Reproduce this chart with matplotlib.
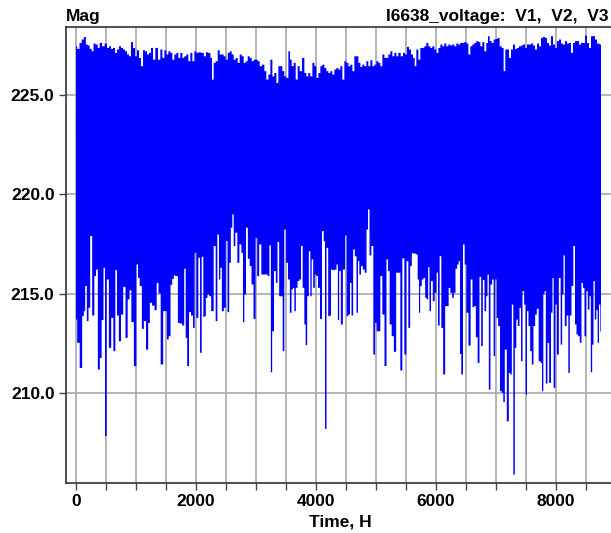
import matplotlib
matplotlib.use("Agg")
import matplotlib.pyplot as plt
from matplotlib.ticker import MultipleLocator, FormatStrFormatter

plt.rcParams["font.family"] = ["Liberation Sans", "DejaVu Sans"]
plt.rcParams["font.weight"] = "bold"

# upper edge of the voltage band (hour, V)
hi_hours = [
    0, 39, 78, 111, 150, 178, 211, 244, 278, 306,
    344, 378, 411, 456, 500, 533, 567, 600, 633, 667,
    700, 733, 767, 800, 833, 867, 900, 933, 967, 1000,
    1033, 1067, 1100, 1133, 1167, 1200, 1233, 1267, 1300, 1344,
    1389, 1422, 1456, 1489, 1522, 1556, 1589, 1622, 1656, 1689,
    1722, 1756, 1789, 1822, 1856, 1889, 1922, 1956, 1989, 2022,
    2056,
    2111, 2150, 2178, 2222, 2256, 2278, 2311, 2345, 2378, 2411,
    2445, 2478, 2511, 2545, 2578, 2611, 2645, 2678, 2711, 2745,
    2778, 2811, 2845, 2878, 2911, 2945, 2978, 3011, 3045, 3078,
    3123, 3156, 3189, 3223, 3256, 3289, 3323, 3356, 3389, 3423,
    3456, 3489, 3523, 3556, 3578, 3611, 3645, 3678, 3711, 3745,
    3789, 3823, 3856, 3889, 3923, 3956, 3989, 4023, 4056, 4089,
    4123, 4156, 4189, 4223, 4256, 4289, 4323, 4356, 4389, 4423,
    4456, 4489, 4523, 4556, 4589, 4623, 4656, 4689, 4723, 4756,
    4789, 4823, 4856, 4889, 4923, 4956, 4989, 5023, 5056, 5089,
    5123, 5156, 5189, 5223, 5256, 5289, 5323, 5356, 5389,
    5433, 5467, 5500, 5533, 5567, 5600, 5633, 5656, 5689, 5722,
    5756, 5789, 5822, 5856, 5889, 5922, 5956, 5989, 6022, 6056,
    6089, 6122, 6156, 6189, 6222, 6256, 6289, 6322, 6356, 6389,
    6422, 6456, 6489, 6522, 6556, 6589, 6622, 6656, 6689, 6722,
    6756, 6789, 6822, 6856, 6878, 6911, 6944, 6978, 7011, 7044,
    7078, 7111, 7144, 7167, 7200, 7233, 7267, 7300, 7333, 7367,
    7400, 7433, 7467, 7500, 7533, 7567, 7600, 7633, 7667, 7700,
    7733, 7767, 7800, 7833, 7867, 7900, 7933, 7967, 8000, 8033,
    8067, 8100, 8133, 8167, 8200, 8233, 8267, 8300, 8333, 8367,
    8400, 8433, 8467, 8500, 8533, 8567, 8600, 8633, 8667, 8700,
    8750,
]
hi_volts = [
    227.43, 227.30, 227.60, 227.77, 227.90, 227.52, 227.47, 227.30, 227.18, 227.57,
    227.52, 227.35, 227.60, 227.43, 227.57, 227.35, 227.43, 227.30, 227.35, 227.10,
    227.27, 227.43, 227.35, 227.27, 227.18, 227.02, 226.93, 227.64, 227.35, 226.93,
    227.23, 226.85, 226.43, 227.23, 227.18, 227.02, 227.10, 227.35, 226.76, 227.35,
    226.76, 227.27, 226.85, 227.23, 227.02, 227.18, 227.10, 226.76, 227.02, 227.10,
    226.85, 227.10, 226.85, 226.93, 227.02, 226.68, 227.10, 226.68, 227.18, 227.10,
    227.13,
    227.10, 226.93, 227.13, 227.10, 226.85, 225.76, 226.60, 226.68, 227.23, 227.02,
    227.02, 226.93, 226.76, 227.10, 227.18, 227.02, 226.76, 226.85, 226.60, 227.02,
    226.93, 226.60, 226.68, 226.93, 226.85, 226.68, 226.76, 226.76, 226.68, 226.43,
    226.51, 226.18, 225.76, 226.01, 226.76, 225.92, 226.09, 225.59, 226.43, 226.43,
    226.18, 225.92, 225.84, 227.18, 226.76, 226.43, 226.60, 225.76, 226.43, 226.18,
    226.85, 226.09, 225.92, 226.09, 225.92, 226.60, 226.43, 225.84, 226.09, 226.43,
    226.51, 226.34, 226.18, 226.09, 226.18, 226.01, 226.26, 226.34, 226.26, 226.43,
    225.76, 226.68, 226.60, 226.43, 226.51, 226.18, 226.93, 226.93, 226.60, 226.39,
    226.51, 226.43, 226.68, 226.43, 226.73, 226.43, 226.51, 226.68, 226.60, 226.43,
    227.02, 226.85, 226.85, 227.02, 227.18, 226.93, 227.10, 226.93, 227.10,
    226.93, 227.10, 227.02, 227.40, 227.27, 227.02, 226.85, 226.43, 227.27, 226.76,
    227.35, 227.35, 227.43, 227.60, 227.43, 227.35, 227.43, 227.27, 227.10, 227.35,
    227.52, 227.43, 227.57, 227.43, 227.52, 227.47, 227.52, 227.43, 227.57, 227.52,
    227.60, 227.60, 227.64, 227.57, 227.02, 227.43, 227.52, 227.60, 227.69, 227.64,
    227.43, 227.64, 227.18, 227.60, 227.94, 227.69, 227.60, 227.77, 227.80, 227.85,
    227.43, 227.35, 226.18, 227.27, 227.27, 226.85, 227.27, 227.52, 227.30, 227.35,
    227.43, 227.47, 227.52, 227.35, 227.52, 227.52, 227.57, 227.47, 227.27, 227.57,
    227.43, 227.85, 227.90, 227.85, 227.60, 227.47, 227.94, 227.52, 227.35, 227.69,
    227.77, 227.57, 227.52, 227.69, 227.57, 227.60, 227.10, 227.60, 227.69, 227.69,
    227.52, 227.60, 227.60, 227.97, 227.60, 227.35, 227.94, 227.94, 227.77, 227.57,
    227.52,
]

# lower edge of the band, with the downward dips (hour, V)
lo_hours = [
    0, 39, 83, 122, 139, 167, 194, 222, 250, 289,
    322, 344, 383, 411, 444, 472, 494, 528, 567, 606,
    639, 672, 694, 733, 767, 806, 844, 878, 906, 939,
    989, 1022, 1044, 1078, 1117, 1144, 1189, 1217, 1244, 1289,
    1328, 1361, 1389, 1433, 1472, 1500, 1528, 1561, 1589, 1617,
    1644, 1678, 1717, 1750, 1789, 1817, 1839, 1867, 1900, 1933,
    1967, 1989, 2022, 2056, 2078, 2111, 2133,
    2150, 2178, 2206, 2233, 2272, 2317, 2339, 2372, 2394, 2417,
    2444, 2483, 2511, 2539, 2567, 2594, 2617, 2639, 2672, 2706,
    2739, 2772, 2794, 2817, 2850, 2878, 2911, 2939, 2978, 3006,
    3033, 3072, 3106, 3150, 3183, 3206, 3239, 3256, 3283, 3317,
    3344, 3372, 3400, 3428, 3461, 3483, 3517, 3550, 3578, 3606,
    3628, 3650, 3678, 3706, 3739, 3761, 3794, 3817, 3839, 3867,
    3894, 3917, 3939, 3967, 3994, 4017, 4050, 4083, 4117, 4139,
    4161, 4189, 4217, 4239, 4261, 4294, 4328, 4356, 4372,
    4400, 4428, 4467, 4500, 4522, 4556, 4578, 4606, 4633, 4661,
    4689, 4711, 4733, 4767, 4794, 4828, 4856, 4878, 4906, 4939,
    4972, 4994, 5028, 5056, 5089, 5122, 5161, 5189, 5211, 5244,
    5278, 5317, 5356, 5389, 5422, 5456, 5489, 5522, 5556, 5583,
    5611, 5644, 5678, 5711, 5722, 5750, 5778, 5806, 5833, 5856,
    5883, 5900, 5933, 5961, 5994, 6022, 6044, 6078, 6100, 6139,
    6167, 6200, 6222, 6256, 6283, 6311, 6339, 6367, 6389, 6411,
    6433, 6467, 6489, 6522, 6561, 6594, 6622,
    6650, 6678, 6711, 6739, 6767, 6794, 6822, 6850, 6867, 6894,
    6922, 6950, 6972, 7000, 7022, 7050, 7083, 7111, 7133, 7161,
    7200, 7228, 7250, 7278, 7300, 7328, 7350, 7378, 7406, 7428,
    7456, 7483, 7506, 7528, 7556, 7583, 7611, 7639, 7667, 7694,
    7728, 7756, 7778, 7800, 7817, 7844, 7872, 7900, 7933, 7950,
    7972, 8006, 8028, 8067, 8089, 8117, 8133, 8161, 8194, 8217,
    8244, 8272, 8306, 8328, 8356, 8383, 8411, 8439, 8461, 8489,
    8517, 8544, 8572, 8589, 8617, 8633, 8661, 8683, 8706, 8728,
    8750,
]
lo_volts = [
    213.71, 212.54, 211.28, 213.88, 214.13, 215.39, 213.63, 214.30, 217.90, 213.91,
    215.89, 216.22, 211.20, 211.78, 213.68, 216.31, 207.85, 215.72, 212.29, 213.79,
    212.12, 216.19, 213.91, 212.62, 213.96, 215.35, 212.79, 214.72, 215.18, 213.58,
    211.37, 216.47, 215.80, 215.39, 213.24, 213.63, 212.20, 213.54, 214.55, 214.41,
    214.18, 215.55, 215.02, 211.45, 214.13, 214.13, 212.71, 212.87, 215.45, 215.75,
    215.92, 215.89, 213.54, 213.51, 213.41, 216.26, 212.79, 211.37, 214.08, 213.91,
    213.29, 217.06, 213.79, 216.81, 212.04, 216.86, 213.84,
    213.88, 214.80, 214.97, 214.88, 214.13, 217.40, 213.63, 217.98, 215.72, 216.31,
    214.13, 214.30, 217.65, 214.08, 216.56, 218.32, 218.99, 217.40, 218.07, 216.56,
    217.48, 217.06, 213.58, 214.97, 218.32, 216.76, 216.39, 215.47, 213.74, 217.81,
    215.89, 217.48, 215.97, 215.97, 215.97, 215.89, 217.43, 211.06, 213.12, 216.14,
    215.55, 217.60, 214.88, 214.88, 212.12, 218.23, 216.56, 215.72, 214.05, 215.22,
    215.30, 214.13, 215.30, 215.64, 215.72, 217.40, 215.30, 213.46, 212.42, 214.88,
    217.14, 214.88, 216.73, 215.30, 215.97, 215.89, 215.30, 213.74, 218.15, 217.65,
    208.22, 217.31, 213.88, 213.91, 216.22, 216.19, 216.22, 216.47, 213.68,
    216.14, 213.46, 216.22, 217.93, 213.88, 213.96, 215.55, 213.91, 217.23, 216.89,
    214.05, 216.64, 215.97, 216.39, 216.22, 216.06, 218.23, 219.24, 216.93, 217.40,
    211.95, 213.54, 213.12, 213.12, 215.89, 213.96, 211.37, 216.73, 216.14, 213.46,
    212.87, 212.09, 216.06, 216.06, 211.15, 216.78, 211.95, 216.64, 213.29, 216.39,
    217.03, 217.03, 216.98, 215.72, 214.05, 215.39, 215.72, 215.80, 214.80, 214.72,
    216.34, 214.13, 215.64, 214.63, 215.05, 216.06, 213.41, 216.89, 213.29, 210.95,
    214.38, 214.38, 215.30, 215.05, 214.80, 215.05, 216.26, 216.47, 216.64, 211.98,
    210.95, 217.48, 216.47, 214.05, 212.40, 215.72, 214.33,
    214.38, 212.82, 211.53, 215.85, 212.37, 215.69, 214.13, 214.88, 215.97, 210.19,
    215.47, 215.72, 211.87, 215.72, 213.79, 213.38, 210.11, 210.03, 209.56, 212.20,
    208.60, 211.03, 210.95, 214.46, 205.92, 212.29, 213.71, 213.38, 214.30, 211.62,
    215.13, 214.46, 209.94, 214.13, 213.38, 212.12, 211.45, 213.38, 213.96, 214.25,
    211.62, 211.53, 210.11, 214.97, 215.13, 210.49, 212.54, 210.53, 214.05, 215.80,
    210.28, 214.46, 211.95, 215.80, 212.45, 214.97, 216.93, 213.38, 213.91, 211.03,
    213.91, 215.39, 217.40, 213.46, 212.96, 212.87, 212.54, 215.55, 215.30, 212.87,
    215.13, 214.21, 214.88, 211.06, 212.45, 215.64, 213.71, 214.18, 212.54, 214.46,
    213.12,
]

x_labels = [0, 2000, 4000, 6000, 8000]
y_labels = [210.0, 215.0, 220.0, 225.0]

W, H = 611, 533
fig = plt.figure(figsize=(W / 100, H / 100), dpi=100)
ax = fig.add_axes([65.7 / W, 1 - 483 / H, (614 - 65.7) / W, (483 - 27) / H])

blue = "#0000ff"
# two overlapping fills: bottom edge with dips, top edge
ax.fill_between(lo_hours, lo_volts, 224.0, step="mid", facecolor=blue,
                edgecolor="none", lw=0, zorder=3)
ax.fill_between(hi_hours, 223.0, hi_volts, step="mid", facecolor=blue,
                edgecolor="none", lw=0, zorder=3)

ax.set_xlim(-172, 8967)
ax.set_ylim(205.5, 228.4)
ax.set_xticks(x_labels)
ax.xaxis.set_minor_locator(MultipleLocator(500))
ax.set_yticks(y_labels)
ax.yaxis.set_major_formatter(FormatStrFormatter("%.1f"))

ax.grid(True, which="both", color="#a8a8a8", lw=1.2, zorder=0)
ax.set_axisbelow(True)
ax.tick_params(which="both", direction="out", length=5, width=1,
               color="#444444", labelsize=12.5, pad=3)
ax.spines["right"].set_visible(False)
for s in ["left", "top", "bottom"]:
    ax.spines[s].set_color("#333333")
    ax.spines[s].set_linewidth(1.2)
    ax.spines[s].set_zorder(4)

ax.set_xlabel("Time, H", fontsize=12.5, fontweight="bold", labelpad=4)

fig.text(65.7 / W, 1 - 21 / H, "Mag", ha="left", va="baseline",
         fontsize=12.5, fontweight="bold")
fig.text(608 / W, 1 - 21 / H, "I6638_voltage:  V1,  V2,  V3", ha="right",
         va="baseline", fontsize=12.5, fontweight="bold")

fig.savefig("out.png", dpi=100)
